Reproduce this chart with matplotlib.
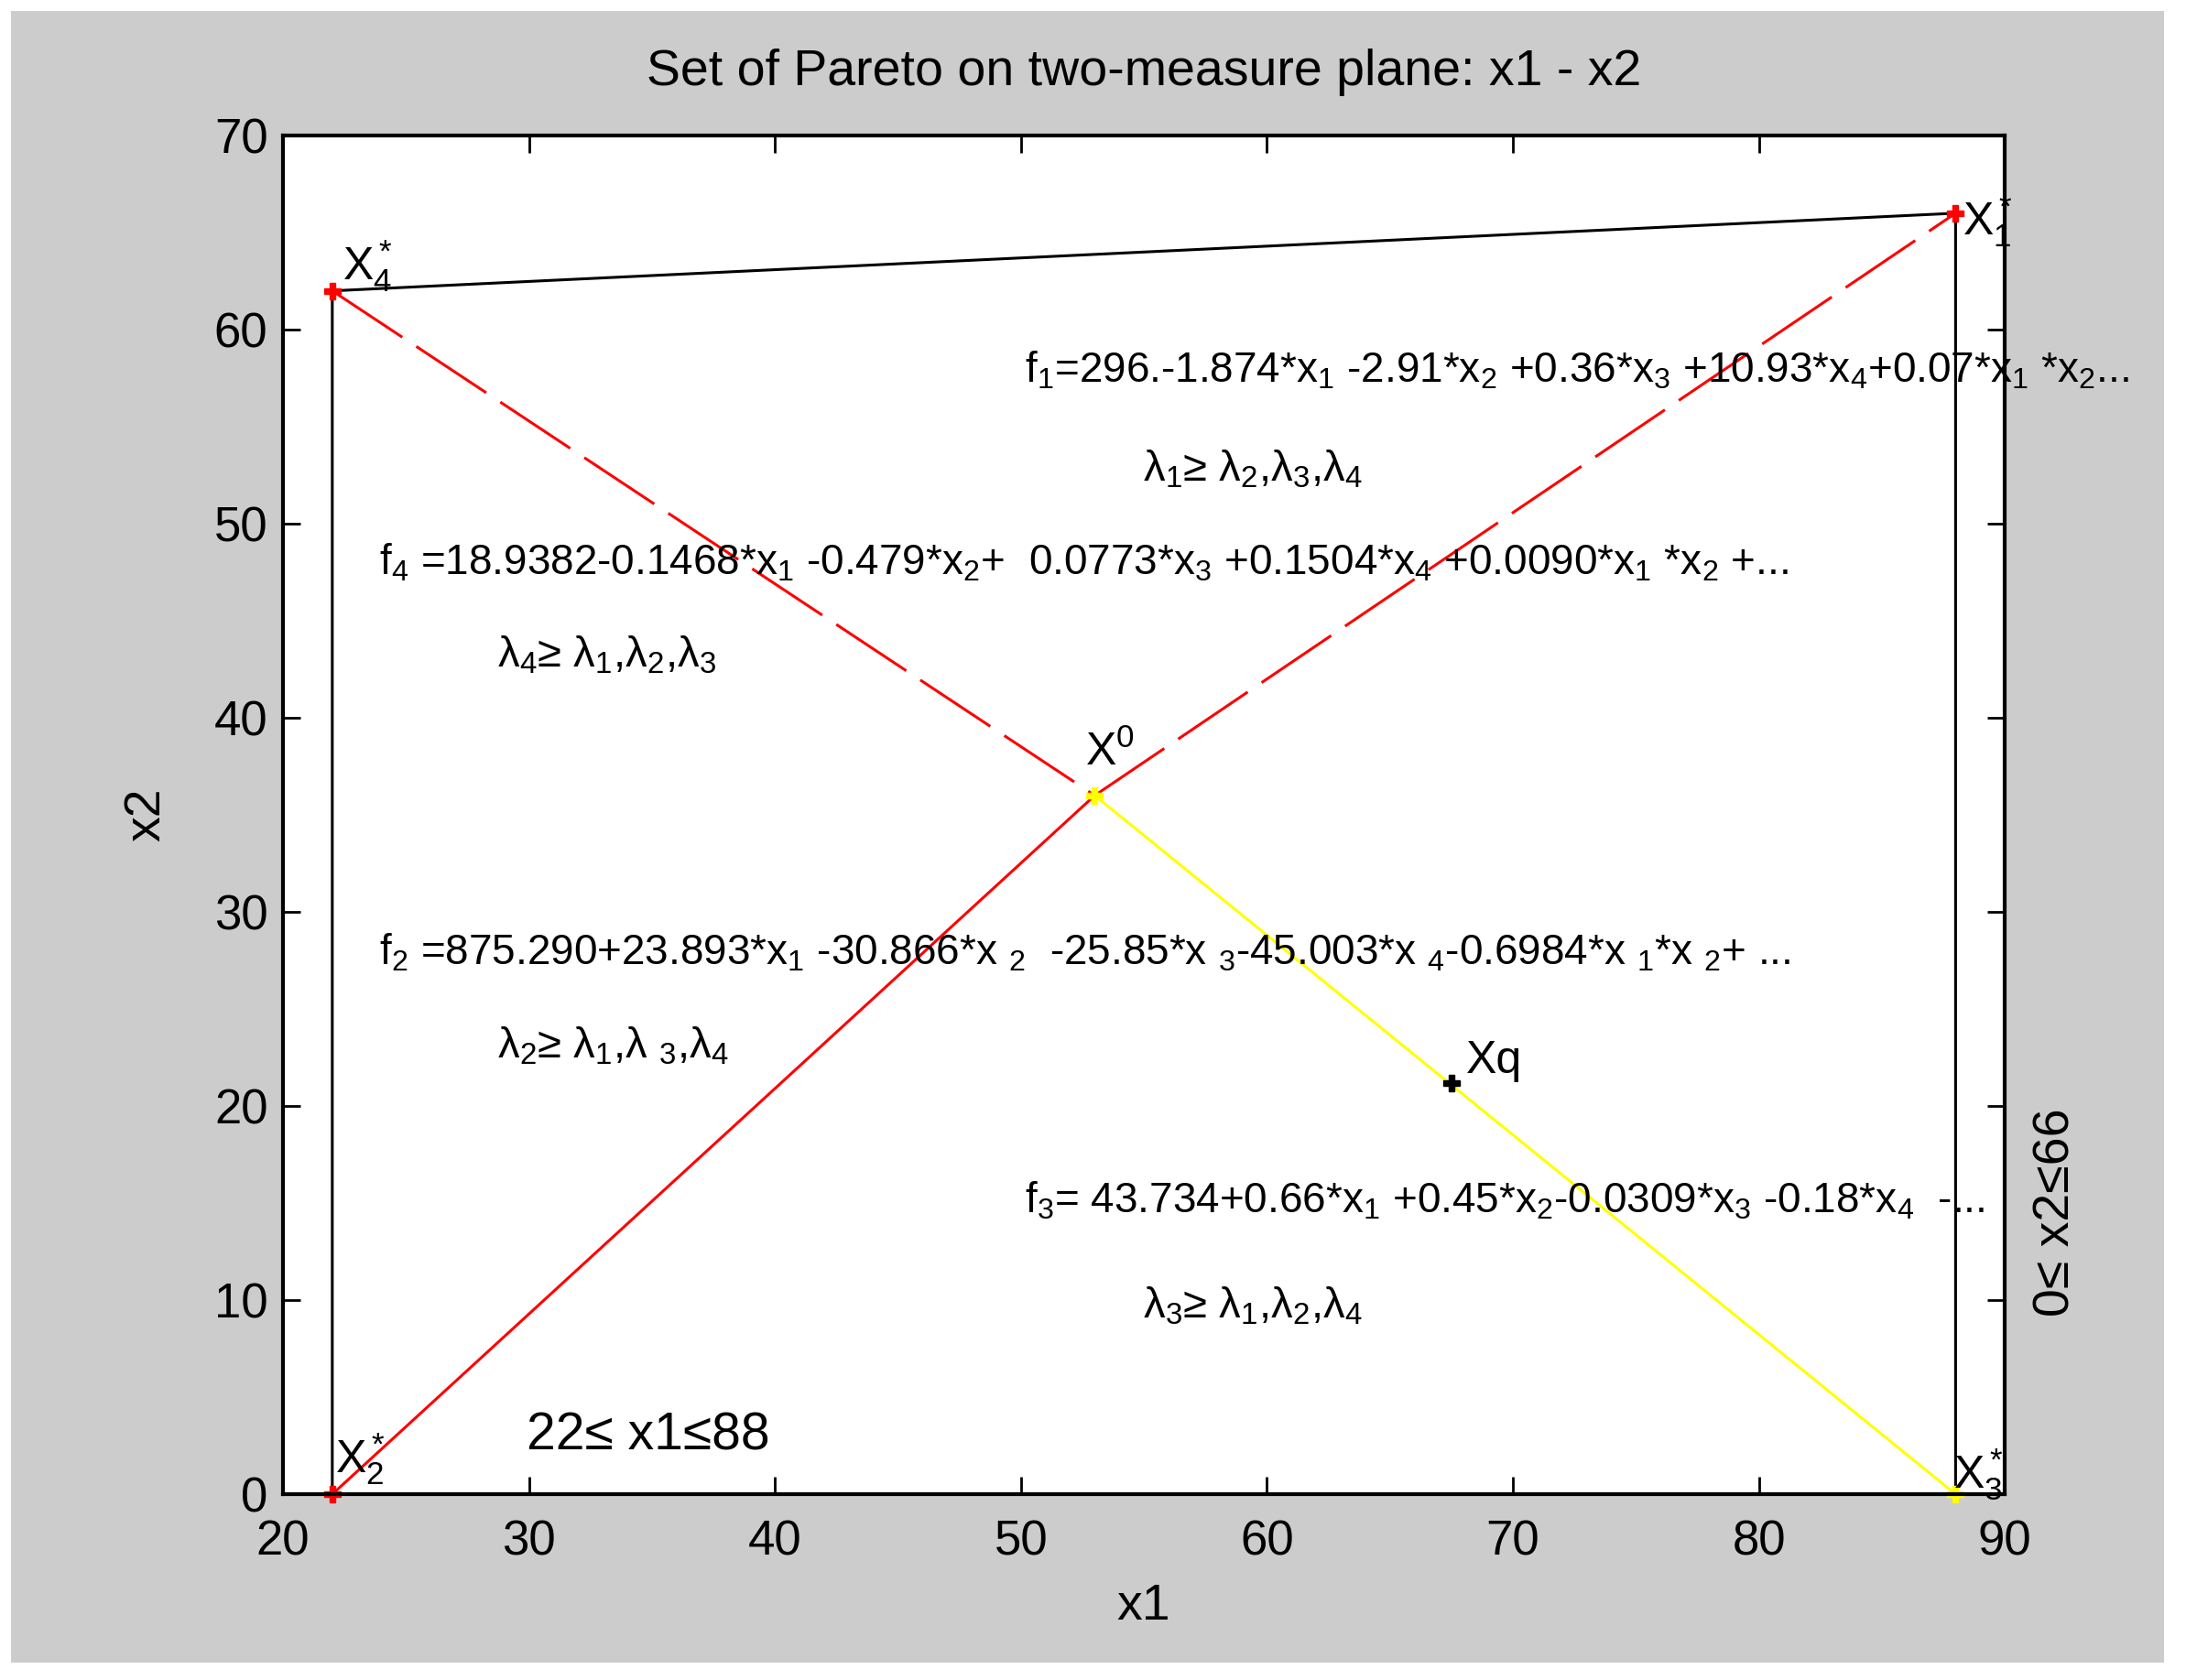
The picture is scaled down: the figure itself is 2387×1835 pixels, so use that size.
import matplotlib
matplotlib.use('Agg')
import matplotlib.pyplot as plt
from matplotlib.patches import Rectangle

plt.rcParams['font.family'] = ['Liberation Sans', 'DejaVu Sans']
plt.rcParams['mathtext.fontset'] = 'custom'
plt.rcParams['mathtext.rm'] = 'Liberation Sans'
plt.rcParams['mathtext.it'] = 'Liberation Sans'
plt.rcParams['mathtext.default'] = 'regular'

# key points of the Pareto set (x1, x2)
x4_star = (22, 62)
x1_star = (88, 66)
x2_star = (22, 0)
x3_star = (88, 0)
x0 = (53, 36)
xq = (67.5, 21.2)

# boundary polygon (black)
border_x = [22, 22, 88, 88]
border_y = [0, 62, 66, 0]

# function texts and their anchor points
eq_texts = [
    'f$_1$=296.-1.874*x$_1$ -2.91*x$_2$ +0.36*x$_3$ +10.93*x$_4$+0.07*x$_1$ *x$_2$...',
    'f$_4$ =18.9382-0.1468*x$_1$ -0.479*x$_2$+  0.0773*x$_3$ +0.1504*x$_4$ +0.0090*x$_1$ *x$_2$ +...',
    'f$_2$ =875.290+23.893*x$_1$ -30.866*x $_2$  -25.85*x $_3$-45.003*x $_4$-0.6984*x $_1$*x $_2$+ ...',
    'f$_3$= 43.734+0.66*x$_1$ +0.45*x$_2$-0.0309*x$_3$ -0.18*x$_4$  -...',
]
eq_pos = [(50.15, 57.9), (23.9, 48.0), (23.9, 27.9), (50.15, 15.1)]

lam_texts = [
    'λ$_1$≥ λ$_2$,λ$_3$,λ$_4$',
    'λ$_4$≥ λ$_1$,λ$_2$,λ$_3$',
    'λ$_2$≥ λ$_1$,λ $_3$,λ$_4$',
    'λ$_3$≥ λ$_1$,λ$_2$,λ$_4$',
]
lam_pos = [(54.97, 52.8), (28.7, 43.2), (28.7, 23.1), (54.97, 9.7)]

fig = plt.figure(figsize=(23.87, 18.35), dpi=100, facecolor='white')
fig.patches.append(Rectangle((0.005, 0.0104), 0.985, 0.983, transform=fig.transFigure,
                             facecolor='#cccccc', edgecolor='none', zorder=-10))
ax = fig.add_axes([0.1295, 0.1106, 0.7876, 0.8087])
ax.set_facecolor('white')

lw = 2.2
red_dash = (0, (30, 6))
ax.plot(border_x, border_y, color='black', lw=lw)
ax.plot([x4_star[0], x0[0]], [x4_star[1], x0[1]], color='red', lw=lw, linestyle=red_dash)
ax.plot([x0[0], x1_star[0]], [x0[1], x1_star[1]], color='red', lw=lw, linestyle=red_dash)
ax.plot([x2_star[0], x0[0]], [x2_star[1], x0[1]], color='red', lw=lw)
ax.plot([x0[0], x3_star[0]], [x0[1], x3_star[1]], color='yellow', lw=lw)

for p in [x4_star, x1_star, x2_star]:
    ax.plot(p[0], p[1], marker='P', color='red', ms=13, clip_on=False)
for p in [x0, x3_star]:
    ax.plot(p[0], p[1], marker='P', color='yellow', ms=13, clip_on=False)
ax.plot(xq[0], xq[1], marker='P', color='black', ms=13)

lbl_fs = 36
ax.text(22.4, 63.3, 'X$_4^*$', fontsize=lbl_fs, va='center', ha='left')
ax.text(88.3, 65.6, 'X$_1^*$', fontsize=lbl_fs, va='center', ha='left', clip_on=False)
ax.text(22.1, 1.8, 'X$_2^*$', fontsize=lbl_fs, va='center', ha='left')
ax.text(87.9, 1.0, 'X$_3^*$', fontsize=lbl_fs, va='center', ha='left', clip_on=False)
ax.text(52.6, 38.2, 'X$^0$', fontsize=lbl_fs, va='center', ha='left')
ax.text(68.1, 22.3, 'Xq', fontsize=lbl_fs, va='center', ha='left')

for t, (px, py) in zip(eq_texts, eq_pos):
    ax.text(px, py, t, fontsize=33, va='center', ha='left', clip_on=False)
for t, (px, py) in zip(lam_texts, lam_pos):
    ax.text(px, py, t, fontsize=34, va='center', ha='left', clip_on=False)

ax.text(29.9, 3.0, '22≤ x1≤88', fontsize=41, va='center', ha='left')
ax.text(92.1, 14.5, '0≤ x2≤66', fontsize=40, va='center', ha='center',
        rotation=90, clip_on=False)

ax.set_xlim(20, 90)
ax.set_ylim(0, 70)
ax.set_xticks(range(20, 91, 10))
ax.set_yticks(range(0, 71, 10))
ax.tick_params(direction='in', length=14, width=2, top=True, right=True,
               labelsize=38, pad=12)
ax.tick_params(axis='x', pad=20)
for s in ax.spines.values():
    s.set_linewidth(3)

ax.set_xlabel('x1', fontsize=40, labelpad=14)
ax.set_ylabel('x2', fontsize=40, labelpad=34)
ax.set_title('Set of Pareto on two-measure plane: x1 - x2', fontsize=40, pad=40)

fig.savefig('out.png', dpi=100, facecolor=fig.get_facecolor())
